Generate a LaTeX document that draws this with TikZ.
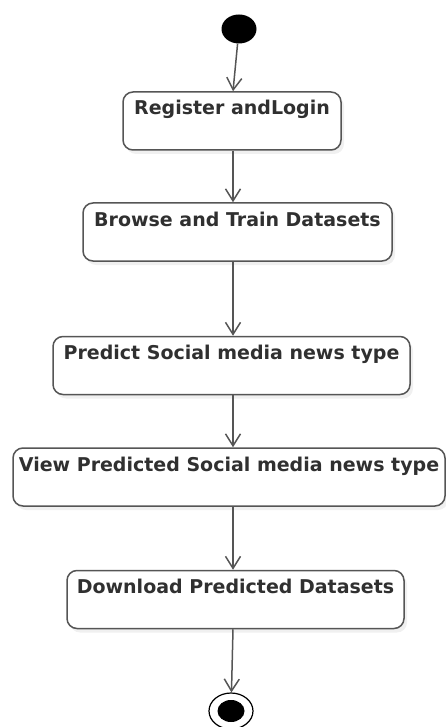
\documentclass[tikz,border=0pt]{standalone}
\usepackage{fontspec}
\setmainfont{DejaVu Sans}
\usetikzlibrary{shapes.geometric,arrows.meta,shadows}
\definecolor{umlgray}{HTML}{555555}
\definecolor{umltext}{HTML}{303030}
\tikzstyle{line} = [draw=umlgray, line width=1.5pt, -{Straight Barb[length=12pt,width=15pt]}]
\tikzstyle{activity} = [draw=umlgray, line width=1.5pt, rectangle, rounded corners=10pt, fill=white, text=umltext, font=\bfseries\fontsize{19}{22}\selectfont, text height=23pt, text depth=35pt, inner xsep=4pt, inner ysep=0pt, drop shadow={shadow xshift=3pt, shadow yshift=-4pt, opacity=0.12}]
\tikzstyle{initial} = [ellipse, fill=black, minimum width=35pt, minimum height=29pt, inner sep=0pt]
\tikzstyle{final} = [ellipse, draw=black, line width=1.2pt, minimum width=44pt, minimum height=36pt, inner sep=0pt, path picture={\fill[black] (path picture bounding box.center) ellipse (13.5pt and 11pt);}]

\begin{document}
\begin{tikzpicture}[x=1pt, y=1pt]
        \useasboundingbox (0,0) rectangle (446,-727);
        \coordinate (axis) at (233,0);
        \node[initial] (start) at (239,-29) {};
        \node[activity, below of=start, node distance=92pt, xshift=-7pt, minimum width=218pt] (register) {Register andLogin};
        \node[activity, below of=register, node distance=111pt, xshift=5.5pt, minimum width=309pt] (browse) {Browse and Train Datasets};
        \node[activity, below of=browse, node distance=133.5pt, xshift=-6pt, minimum width=357pt] (predict) {Predict Social media news type};
        \node[activity, below of=predict, node distance=111.5pt, xshift=-2.5pt, minimum width=432pt] (view) {View Predicted Social media news type};
        \node[activity, below of=view, node distance=122.5pt, xshift=6.5pt, minimum width=337pt] (download) {Download Predicted Datasets};
        \node[final, below of=download, node distance=111.5pt, xshift=-4.5pt] (end) {};
        \path[line] (start) -- (register.north -| axis);
        \path[line] (register.south -| axis) -- (browse.north -| axis);
        \path[line] (browse.south -| axis) -- (predict.north -| axis);
        \path[line] (predict.south -| axis) -- (view.north -| axis);
        \path[line] (view.south -| axis) -- (download.north -| axis);
        \path[line] (download.south -| axis) -- (end);
    \end{tikzpicture}
\end{document}
